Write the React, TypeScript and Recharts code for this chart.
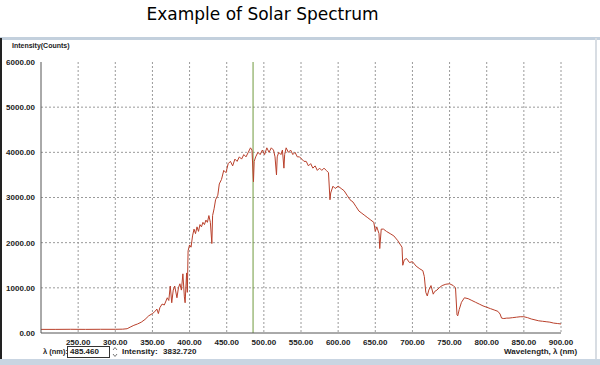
import React from "react";
import { LineChart, Line, XAxis, YAxis, CartesianGrid, ReferenceLine } from "recharts";

const wavelengths = [
  200, 220, 240, 260, 280, 300, 310, 316, 320, 325, 330, 335, 340, 345, 350, 353, 356, 358, 360, 363,
  366, 370, 372, 374, 376, 378, 380, 383, 385, 387, 389, 391, 393, 394, 396, 397, 398, 400, 402, 404,
  406, 408, 410, 412, 414, 416, 418, 420, 422, 424, 426, 428, 430, 431, 433, 435, 438, 440, 443, 446,
  449, 452, 455, 458, 461, 464, 467, 470, 473, 476, 479, 482, 484, 486, 487, 489, 492, 495, 498, 501,
  504, 507, 510, 513, 515, 517, 518, 520, 523, 525, 527, 528, 530, 533, 536, 539, 542, 545, 548, 551,
  554, 557, 560, 563, 566, 569, 572, 575, 578, 581, 584, 587, 589, 590, 593, 596, 600, 604, 608, 612,
  616, 620, 624, 628, 632, 636, 640, 644, 648, 650, 652, 655, 656, 658, 661, 665, 670, 675, 680, 684,
  686, 687, 689, 692, 696, 700, 705, 710, 714, 716, 718, 720, 722, 725, 728, 730, 733, 736, 740, 745,
  750, 755, 758, 760, 761, 763, 766, 770, 775, 780, 785, 790, 795, 800, 805, 810, 815, 818, 820, 823,
  827, 830, 835, 840, 845, 850, 855, 860, 865, 870, 875, 880, 885, 890, 895, 900,
];

const intensity = [
  80, 80, 82, 80, 82, 82, 85, 95, 130, 170, 200, 240, 300, 380, 430, 470, 530, 430, 560, 640,
  620, 780, 720, 1040, 670, 950, 1040, 780, 1000, 1090, 950, 1310, 800, 670, 1330, 900, 1820, 1950, 1900, 2150,
  2300, 2200, 2350, 2250, 2400, 2350, 2450, 2400, 2500, 2450, 2600, 2450, 1980, 2600, 2750, 2950, 3050, 3300, 3400, 3600,
  3550, 3750, 3800, 3700, 3850, 3800, 3900, 3850, 3950, 3900, 4000, 4100, 4050, 3350, 3800, 3900, 4000, 3950, 4050, 3950,
  4100, 4000, 4100, 4050, 3900, 3500, 3900, 4000, 3950, 4050, 3650, 3950, 4100, 4000, 4050, 3950, 4000, 3900, 3900, 3850,
  3800, 3800, 3700, 3750, 3650, 3700, 3600, 3650, 3600, 3650, 3600, 3550, 2950, 3100, 3250, 3200, 3250, 3200, 3150, 3050,
  2950, 2900, 2800, 2700, 2650, 2600, 2550, 2500, 2450, 2250, 2350, 2200, 1870, 2300, 2300, 2250, 2200, 2150, 2050, 1950,
  1900, 1500, 1620, 1650, 1560, 1580, 1480, 1420, 1380, 1250, 900, 820, 950, 1050, 860, 920, 950, 1000, 1050, 1080,
  1090, 1050, 1000, 400, 380, 520, 680, 780, 760, 720, 680, 640, 600, 570, 540, 510, 480, 420, 330, 320,
  330, 330, 340, 350, 360, 360, 340, 310, 290, 270, 260, 250, 240, 220, 210, 200,
];

const xTicks = [250, 300, 350, 400, 450, 500, 550, 600, 650, 700, 750, 800, 850, 900];
const yTicks = [0, 1000, 2000, 3000, 4000, 5000, 6000];
const cursorWavelength = 485.46;
const cursorText = "485.460";
const cursorIntensity = "3832.720";

const data = wavelengths.map((w, i) => ({ w, v: intensity[i] }));

const small = { fontFamily: "Liberation Sans, Arial, sans-serif", fontSize: 8, fontWeight: "bold" as const, fill: "#222", color: "#222" };

export default function App() {
  return (
    <div style={{ position: "absolute", left: 0, top: 0, width: 600, height: 365, background: "#fff", overflow: "hidden" }}>
      <div
        style={{
          position: "absolute", left: 0, top: 4, width: 525, textAlign: "center",
          fontFamily: "DejaVu Sans, sans-serif", fontSize: 17, color: "#000",
        }}
      >
        Example of Solar Spectrum
      </div>
      {/* window frame */}
      <div style={{ position: "absolute", left: 0, top: 37, width: 600, height: 3, background: "#c3d0dd" }} />
      <div style={{ position: "absolute", left: 0, top: 38, width: 2, height: 322, background: "#222" }} />
      <div style={{ position: "absolute", left: 595, top: 38, width: 2, height: 322, background: "#d8dde3" }} />
      <div style={{ position: "absolute", left: 0, top: 359, width: 600, height: 6, background: "#c9d5e2" }} />

      <div style={{ position: "absolute", left: 12, top: 42, ...small, fontSize: 7 }}>Intensity(Counts)</div>

      <div style={{ position: "absolute", left: 0, top: 0 }}>
        <LineChart width={600} height={365} data={data} margin={{ top: 62, right: 39, bottom: 0, left: 0 }}>
          <CartesianGrid
            stroke="#9a9a9a"
            strokeDasharray="2 2"
            horizontalValues={[1000, 2000, 3000, 4000, 5000]}
            verticalValues={xTicks}
          />
          <XAxis
            dataKey="w"
            type="number"
            domain={[200, 900]}
            ticks={xTicks}
            tickFormatter={(v: number) => v.toFixed(2)}
            height={32}
            tickLine={false}
            axisLine={{ stroke: "#555" }}
            tick={{ ...small, dy: -2 }}
            interval={0}
          />
          <YAxis
            type="number"
            domain={[0, 6000]}
            ticks={yTicks}
            tickFormatter={(v: number) => v.toFixed(2)}
            width={41}
            tickLine={false}
            axisLine={{ stroke: "#555" }}
            tick={{ ...small, dx: 2 }}
            interval={0}
          />
          <ReferenceLine x={cursorWavelength} stroke="#6f9a3c" strokeWidth={1} />
          <Line
            type="linear"
            dataKey="v"
            stroke="#b9402b"
            strokeWidth={1}
            dot={false}
            isAnimationActive={false}
          />
        </LineChart>
      </div>

      <div style={{ position: "absolute", left: 43, top: 347, ...small, fontSize: 7.5 }}>λ (nm):</div>
      <div
        style={{
          position: "absolute", left: 67, top: 346, width: 39, height: 10, border: "1px solid #333",
          background: "#fff", ...small, lineHeight: "10px", paddingLeft: 2, boxSizing: "content-box",
        }}
      >
        {cursorText}
      </div>
      <svg style={{ position: "absolute", left: 112, top: 346 }} width={6} height={12}>
        <path d="M1 4 L3 1.5 L5 4" fill="none" stroke="#777" strokeWidth={1} />
        <path d="M1 8 L3 10.5 L5 8" fill="none" stroke="#777" strokeWidth={1} />
      </svg>
      <div style={{ position: "absolute", left: 122, top: 347, ...small }}>Intensity:</div>
      <div style={{ position: "absolute", left: 163, top: 347, ...small }}>{cursorIntensity}</div>
      <div style={{ position: "absolute", left: 504, top: 347, ...small }}>Wavelength, λ (nm)</div>
    </div>
  );
}
